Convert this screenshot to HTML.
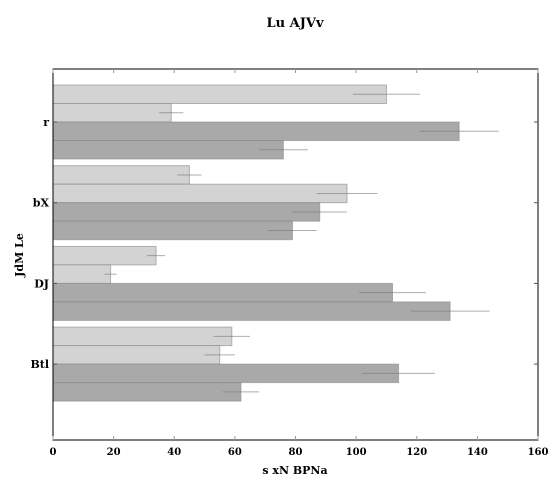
<!DOCTYPE html>
<html><head><meta charset="utf-8"><style>
body{margin:0;background:#fff;}
svg text{font-family:"DejaVu Serif","Liberation Serif",serif;font-weight:bold;}
</style></head><body>
<svg id="chart" width="560" height="490" xmlns="http://www.w3.org/2000/svg">
<text x="295" y="27" text-anchor="middle" font-size="13">Lu AJVv</text>
<g id="bars"></g>
<rect x="53" y="69" width="485" height="371" fill="none" stroke="#000" stroke-width="1"/>
<g id="axes"></g>
<text x="295" y="474" text-anchor="middle" font-size="11">s xN BPNa</text>
<text transform="translate(23,255) rotate(-90)" text-anchor="middle" font-size="11">JdM Le</text>
</svg>
<script>
const categories=["r","bX","DJ","Btl"];
const s1=[110,45,34,59], e1=[11,4,3,6];
const s2=[39,97,19,55], e2=[4,10,2,5];
const s3=[134,88,112,114], e3=[13,9,11,12];
const s4=[76,79,131,62], e4=[8,8,13,6];
const xTicks=[0,20,40,60,80,100,120,140,160];
const series=[[s1,e1,"#d3d3d3"],[s2,e2,"#d3d3d3"],[s3,e3,"#a9a9a9"],[s4,e4,"#a9a9a9"]];
const NS="http://www.w3.org/2000/svg";
const x=v=>53+v*485/160;
const yc=i=>122+i*80.7;
const bh=18.5;
const bars=document.getElementById('bars'), axes=document.getElementById('axes');
function mk(tag,a,p){const e=document.createElementNS(NS,tag);for(const k in a)e.setAttribute(k,a[k]);p.appendChild(e);return e;}
categories.forEach((c,i)=>{
  series.forEach((s,j)=>{
    const v=s[0][i], er=s[1][i], top=yc(i)-2*bh+j*bh;
    const r=mk('rect',{x:53,y:top,width:x(v)-53,height:bh,fill:s[2],stroke:"#888","stroke-width":1,"stroke-opacity":0.6},bars);
    
    
    const l=mk('line',{x1:x(v-er),x2:x(v+er),y1:top+bh/2,y2:top+bh/2,stroke:"#777","stroke-opacity":0.6,"stroke-width":1},bars);
    
    
  });
  const t=mk('text',{x:49,y:yc(i)+4,"text-anchor":"end","font-size":11},axes);
  t.textContent=c;
  
  
  mk('line',{x1:53,x2:57,y1:yc(i),y2:yc(i),stroke:"#555"},axes);
  mk('line',{x1:534,x2:538,y1:yc(i),y2:yc(i),stroke:"#555"},axes);
});
xTicks.forEach(v=>{
  mk('line',{x1:x(v),x2:x(v),y1:69,y2:73,stroke:"#999"},axes);
  mk('line',{x1:x(v),x2:x(v),y1:436,y2:440,stroke:"#999"},axes);
  const t=mk('text',{x:x(v),y:455,"text-anchor":"middle","font-size":10},axes);
  t.textContent=v;
  
  
});
</script>
</body></html>
